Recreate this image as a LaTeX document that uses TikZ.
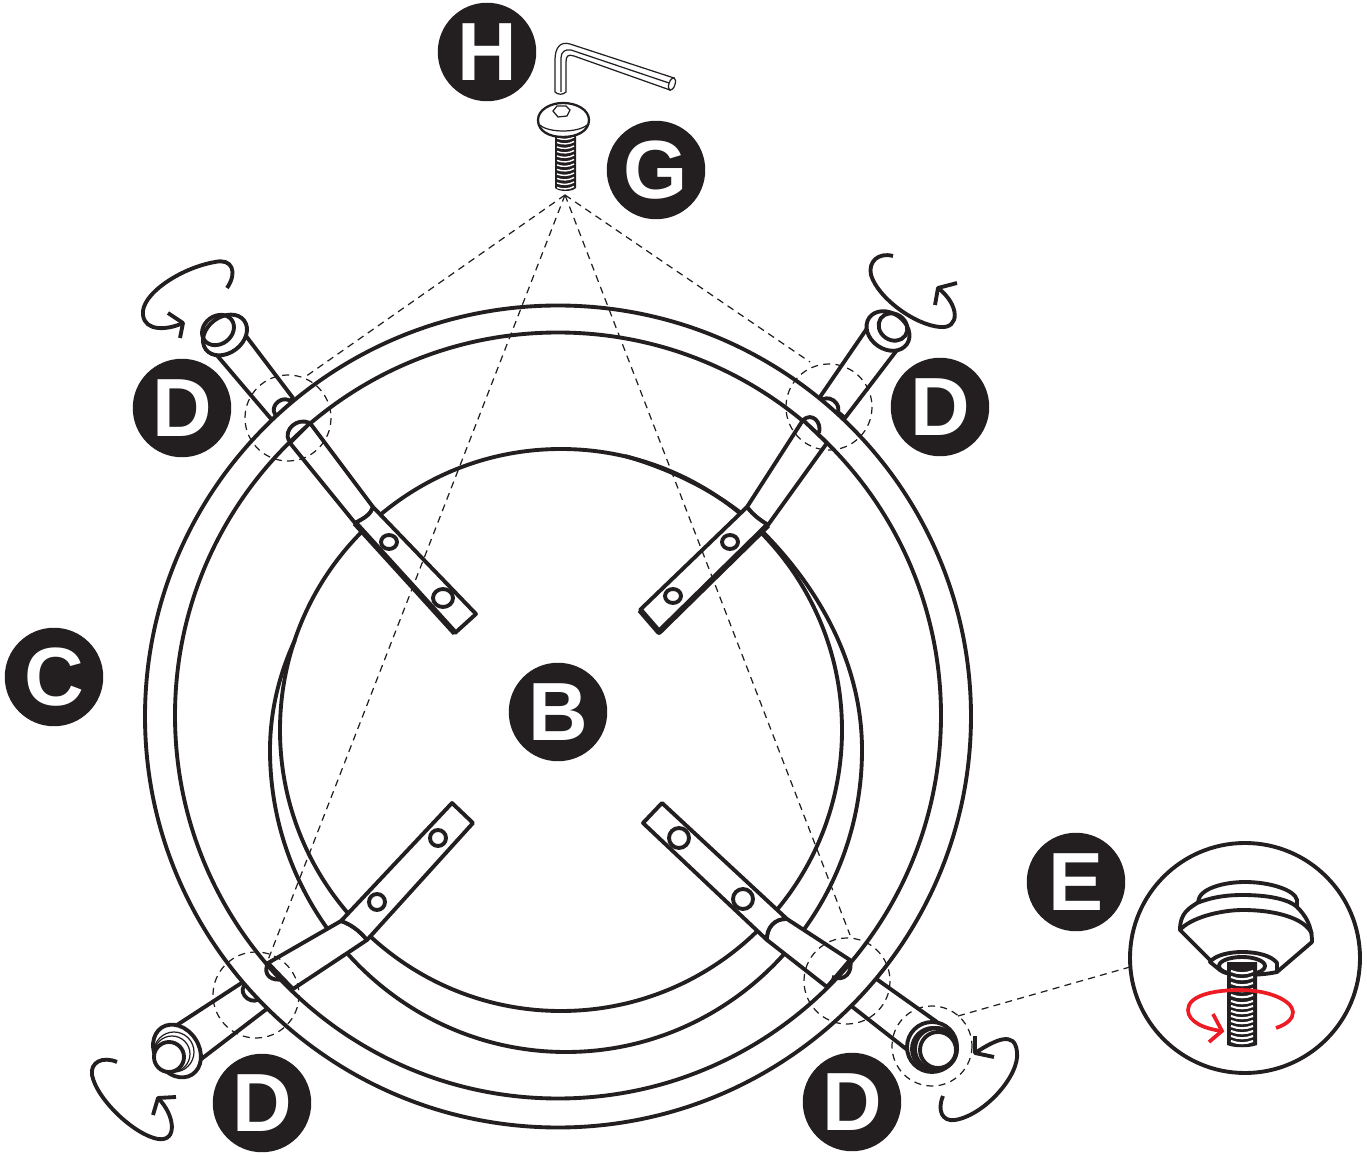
\documentclass[tikz,border=0pt]{standalone}
\usepackage{fontspec}
\setmainfont{Liberation Sans}
\usepackage{xcolor}
\definecolor{ink}{HTML}{231F20}
\definecolor{turnred}{HTML}{ED1C24}
\usetikzlibrary{calc,positioning}
\tikzset{
	part/.style={draw=ink, line width=2.2pt, line join=round},
	filled/.style={part, fill=white},
	thin part/.style={draw=ink, line width=0.7pt},
	guide/.style={draw=ink, line width=0.7pt, dash pattern=on 4pt off 3pt},
	badge/.style={circle, fill=ink, text=white, minimum size=1.97cm, inner sep=0pt, font=\fontsize{47}{47}\selectfont\bfseries},
}

\begin{document}
\begin{tikzpicture}[x=0.02cm, y=-0.02cm]
		\useasboundingbox (0,0) rectangle (1367,1155);

		\draw[part] (561,730) circle[radius=281];
		\draw[part] (625,456) .. controls (680,472) and (728,498) .. (763,532) .. controls (825,595) and (862,670) .. (862,750) .. controls (862,916) and (730,1052) .. (566,1052) .. controls (402,1052) and (270,916) .. (270,750) .. controls (270,710) and (280,672) .. (295,640);

		% tubes behind the hoop
		\draw[filled] (293,398) -- (243,332) -- (215,353) -- (272,420) -- cycle;
		\draw[filled] (225,335) circle[x radius=24, y radius=18, rotate=37];
		\draw[part] (218,330) circle[x radius=17, y radius=14, rotate=37];
		\draw[filled] (283,408) circle[x radius=10, y radius=8, rotate=37];

		\draw[filled] (820,397) -- (868,327) -- (897,350) -- (845,418) -- cycle;
		\draw[filled] (888,331) circle[x radius=23, y radius=18, rotate=-35];
		\draw[part] (893,327) circle[x radius=15, y radius=13, rotate=-35];
		\draw[filled] (829,407) circle[x radius=10, y radius=8, rotate=-35];

		\draw[filled] (243,982) -- (177,1025) -- (200,1060) -- (268,1008) -- cycle;
		\draw[filled] (177,1051) circle[x radius=28, y radius=22, rotate=-57];
		\foreach \cx/\cy/\r in {174/1052/20,172/1054/18} {
			\draw[thin part] (\cx,\cy) circle[radius=\r];
		}
		\draw[filled] (169,1057) circle[radius=15];
		\draw[filled] (252,992) circle[x radius=10, y radius=8, rotate=-35];

		\draw[filled] (875,978) -- (937,1022) -- (910,1052) -- (850,1005) -- cycle;
		\draw[filled] (932,1047) circle[radius=25];
		\foreach \cx in {933,935,936} {
			\draw[part] (\cx,1049) circle[radius=21];
		}
		\draw[filled] (938,1050) circle[radius=18];

		% hoop
		\draw[filled, even odd rule] (558,716.5) circle[x radius=413, y radius=411] (558,715.5) circle[x radius=383, y radius=383];

		% inner tubes and plates
		\draw[filled] (373,507) -- (310,423) -- (290,443) -- (355,523) .. controls (365,518) and (371,514) .. cycle;
		\draw[part] (289,441) .. controls (283,430) and (297,417) .. (310,423);
		\draw[filled] (373,507) -- (476,614) -- (455,633) -- (355,523) .. controls (365,518) and (371,514) .. cycle;
		\draw[part, line width=3.4pt] (355,523) -- (455,633);
		\draw[part] (389,542) circle[x radius=8, y radius=7];
		\draw[part] (443,598) circle[x radius=10, y radius=9];

		\draw[filled] (747,507) -- (803,420) -- (827,443) -- (768,525) .. controls (760,520) and (753,515) .. cycle;
		\draw[part] (803,420) .. controls (812,412) and (822,422) .. (819,433);
		\draw[filled] (747,507) -- (640,610) -- (659,632) -- (768,525) .. controls (760,520) and (753,515) .. cycle;
		\draw[part, line width=3.4pt] (768,525) -- (659,632) -- (640,610);
		\draw[part] (730,542) circle[x radius=8, y radius=7];
		\draw[part] (673,596) circle[x radius=8, y radius=7];

		\draw[filled] (341,921) -- (268,963) -- (293,989) -- (367,940) .. controls (359,930) and (350,924) .. cycle;
		\draw[part] (268,963) .. controls (262,975) and (272,982) .. (284,979);
		\draw[filled] (341,921) -- (452,803) -- (473,823) -- (367,940) .. controls (359,930) and (350,924) .. cycle;
		\draw[part] (377,902) circle[radius=8];
		\draw[part] (438,838) circle[radius=8];

		\draw[filled] (787,919) -- (850,960) -- (827,987) -- (767,940) .. controls (766,928) and (775,918) .. cycle;
		\draw[part] (850,960) .. controls (853,972) and (845,982) .. (832,977);
		\draw[filled] (787,919) -- (662,803) -- (643,823) -- (767,940) .. controls (766,928) and (775,918) .. cycle;
		\draw[part] (743,899) circle[radius=10];
		\draw[part] (679,838) circle[radius=10];

		% turning arrows
		\draw[part] (227,288) .. controls (238,272) and (232,258) .. (215,262) .. controls (180,268) and (140,295) .. (143,315) .. controls (145,332) and (168,330) .. (183,323);
		\draw[part] (168,313) -- (183,323) -- (180,338);
		\draw[part] (893,256) .. controls (878,252) and (868,262) .. (871,275) .. controls (878,298) and (915,325) .. (940,327) .. controls (960,329) and (960,305) .. (938,288);
		\draw[part] (935,305) -- (938,288) -- (957,283);
		\draw[part] (117,1062) .. controls (103,1056) and (90,1062) .. (92,1075) .. controls (97,1100) and (135,1135) .. (158,1139) .. controls (178,1142) and (175,1115) .. (158,1098);
		\draw[part] (153,1115) -- (158,1098) -- (176,1097);
		\draw[part] (943,1096) .. controls (937,1110) and (942,1122) .. (955,1120) .. controls (985,1115) and (1020,1075) .. (1017,1052) .. controls (1015,1030) and (995,1040) .. (975,1053);
		\draw[part] (975,1036) -- (975,1053) -- (994,1057);

		% hex key
		\draw[thin part, fill=white] (555,92) -- (555,60) .. controls (555,48) and (560,41) .. (570,44) -- (674,78) -- (670,90) -- (574,56) .. controls (568,54) and (566,56) .. (566,62) -- (566,92) .. controls (563,95) and (558,95) .. cycle;
		\draw[thin part] (561,92) -- (561,58) .. controls (561,52) and (565,49) .. (571,50) -- (672,84);
		\draw[thin part, fill=white] (672,84) circle[x radius=6.5, y radius=3, rotate=72];

		% bolt
		\fill[ink] (555,134) rectangle (576,188) .. controls (572,192) and (559,192) .. (555,188);
		\foreach \y in {138,142.5,...,188} {
			\draw[white, line width=0.8pt] (557,\y) .. controls (562,\y+2) and (569,\y+2) .. (574,\y-1);
		}
		\draw[filled, line width=1.3pt] (538,120) .. controls (538,110) and (550,103) .. (563,103) .. controls (577,103) and (589,110) .. (589,120) .. controls (589,131) and (577,137) .. (563,137) .. controls (549,137) and (538,131) .. cycle;
		\draw[thin part] (540,125) .. controls (548,133) and (578,133) .. (587,125);
		\draw[thin part] (553,111) -- (557,106) -- (566,106) -- (570,110) -- (567,116) -- (558,117) -- cycle;

		% foot detail
		\draw[part] (1245,958) circle[radius=115];
		\draw[filled] (1198,902) .. controls (1199,888) and (1225,882) .. (1245,882) .. controls (1270,882) and (1295,890) .. (1297,900) -- (1297,907);
		\draw[filled] (1180,930) .. controls (1180,912) and (1190,908) .. (1197,903) .. controls (1215,896) and (1230,895) .. (1243,895) .. controls (1270,895) and (1290,900) .. (1297,907) .. controls (1305,915) and (1312,925) .. (1312,942) -- (1277,972) -- (1220,970) -- cycle;
		\draw[part] (1180,930) .. controls (1190,918) and (1220,910) .. (1243,910) .. controls (1275,910) and (1305,918) .. (1312,934);
		\draw[filled] (1210,962) .. controls (1215,955) and (1230,952) .. (1242,952) .. controls (1258,952) and (1272,956) .. (1277,963) -- (1277,972) .. controls (1268,974) and (1255,975) .. (1245,975) .. controls (1235,975) and (1225,974) .. (1220,970) -- cycle;
		\draw[part] (1242,966) circle[x radius=23, y radius=9];
		\fill[ink] (1227,962) rectangle (1257,1045) .. controls (1250,1048) and (1234,1048) .. (1227,1045);
		\foreach \y in {971,977,983,989,995,1001,1006,1011,1016,1021,1026,1031,1036,1041} {
			\draw[white, line width=1.2pt] (1231,\y) .. controls (1238,\y+3) and (1246,\y+3) .. (1253,\y);
		}
		\draw[turnred, line width=2.1pt] (1276,1028) .. controls (1288,1024) and (1293,1018) .. (1293,1012) .. controls (1292,1000) and (1268,990) .. (1240,990) .. controls (1212,990) and (1188,996) .. (1188,1010) .. controls (1188,1022) and (1205,1029) .. (1222,1031);
		\draw[turnred, line width=2.1pt] (1213,1014) -- (1222,1031) -- (1209,1042);

		% guides
		\coordinate (boltTip) at (565,195);
		\coordinate (jointTL) at (305,377);
		\coordinate (jointTR) at (810,362);
		\coordinate (jointBL) at (268,960);
		\coordinate (jointBR) at (850,935);
		\coordinate (footPin) at (958,1016);
		\coordinate (detailEdge) at (1130,967);
		\foreach \j in {jointTL,jointTR,jointBL,jointBR} {
			\draw[guide] (boltTip) -- (\j);
		}
		\draw[guide] (footPin) -- (detailEdge);
		\foreach \cx/\cy in {288/418,829/407,256/995,847/981} {
			\draw[guide] (\cx,\cy) circle[radius=43];
		}
		\draw[guide] (932,1046) circle[radius=40];

		\node[badge] (labelH) at (487,52) {H};
		\node[badge] (labelG) at (656,170) {G};
		\node[badge] (labelB) at (558,712) {B};
		\node[badge] (labelC) at (54,677) {C};
		\node[badge] (labelE) at (1076,882) {E};
		\node[badge] (labelDa) at (182,408) {D};
		\node[badge] (labelDb) at (940,407) {D};
		\node[badge] (labelDc) at (262,1103) {D};
		\node[badge] (labelDd) at (852,1102) {D};
	\end{tikzpicture}
\end{document}
